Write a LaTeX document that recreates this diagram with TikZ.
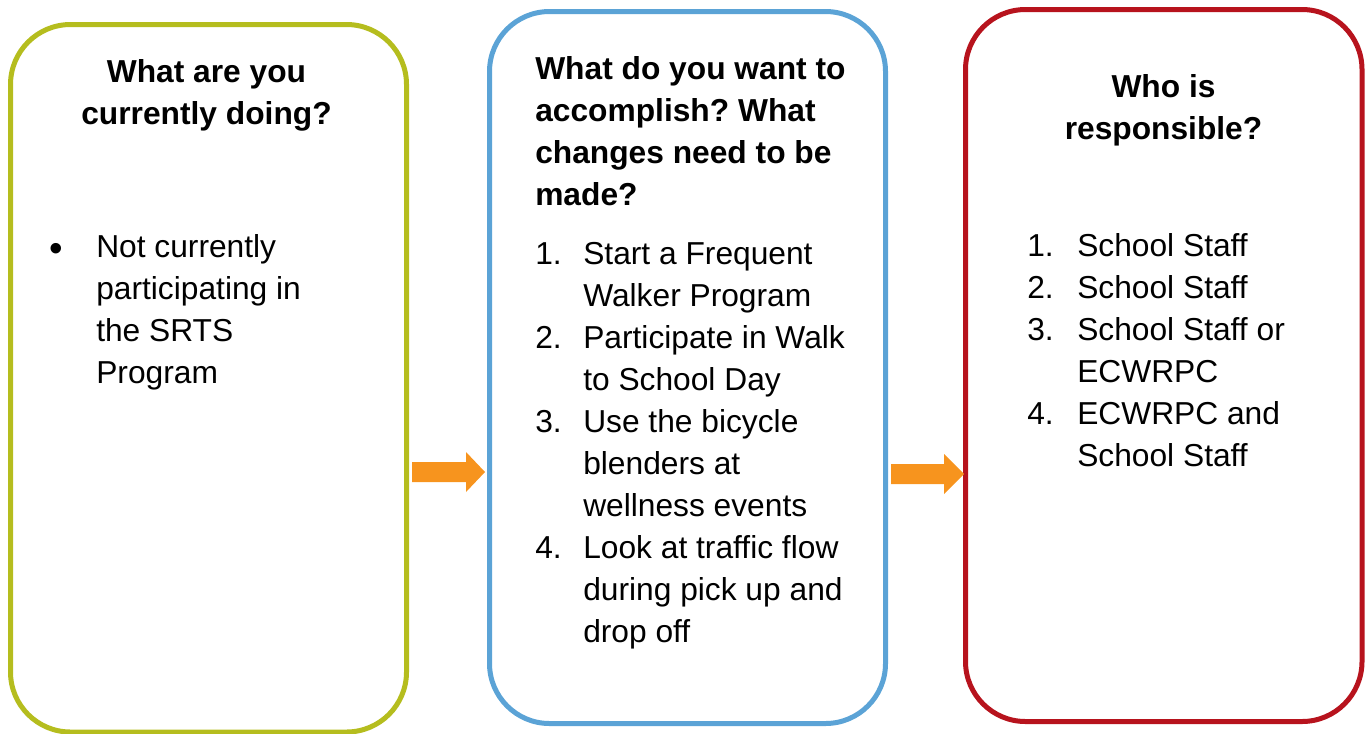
\documentclass[tikz,border=0pt]{standalone}
\usepackage{fontspec}
\setmainfont{Liberation Sans}
\usetikzlibrary{calc}
\definecolor{cgreen}{RGB}{181,189,30}
\definecolor{cblue}{RGB}{91,163,214}
\definecolor{cred}{RGB}{183,19,29}
\definecolor{corange}{RGB}{247,148,30}
\frenchspacing
\tikzset{
  panel/.style={draw, line width=3.75pt, rounded corners=45pt, inner sep=0pt, minimum width=297pt, minimum height=534pt},
  txt/.style={inner sep=0pt, font=\fontsize{23.8}{31.5}\selectfont, anchor=base west},
  head/.style={inner sep=0pt, font=\fontsize{23.8}{31.5}\selectfont\bfseries, anchor=base},
  headl/.style={head, anchor=base west},
  fatarrow/.style={fill=corange, draw=none}
}
\begin{document}
\begin{tikzpicture}[x=0.75pt, y=-0.75pt]
\useasboundingbox (0,0) rectangle (1369,733);
% panels
\node[panel, draw=cgreen, minimum height=530.625pt] (b1) at (208.5,378.25) {};
\node[panel, draw=cblue] (b2) at (687.5,367.5) {};
\node[panel, draw=cred, minimum width=297.375pt] (b3) at (1163.75,365.5) {};
% arrows
\coordinate (a1s) at (412,472);
\coordinate (a1e) at (485,472);
\coordinate (a2s) at (891,474);
\coordinate (a2e) at (964,474);
\fill[fatarrow] ($(a1s)+(0,-10)$) -- ($(a1e)+(-19,-10)$) -- ($(a1e)+(-19,-20)$) -- (a1e) -- ($(a1e)+(-19,20)$) -- ($(a1e)+(-19,10)$) -- ($(a1s)+(0,10)$) -- cycle;
\fill[fatarrow] ($(a2s)+(0,-10)$) -- ($(a2e)+(-20,-10)$) -- ($(a2e)+(-20,-20)$) -- (a2e) -- ($(a2e)+(-20,20)$) -- ($(a2e)+(-20,10)$) -- ($(a2s)+(0,10)$) -- cycle;
% panel 1
\node[head] (h11) at (206.5,82) {What are you};
\node[head] (h12) at (206.5,124) {currently doing?};
\node[txt, font=\fontsize{29}{31.5}\selectfont] (bul) at (49,261) {•};
\node[txt] (t11) at (96,257) {Not currently};
\node[txt] (t12) at (96,299) {participating in};
\node[txt] (t13) at (96,341) {the SRTS};
\node[txt] (t14) at (96,383) {Program};
% panel 2
\node[headl] (h21) at (535,79) {What do you want to};
\node[headl] (h22) at (535,121) {accomplish? What};
\node[headl] (h23) at (535,163) {changes need to be};
\node[headl] (h24) at (535,205) {made?};
\node[txt] (n21) at (535,264) {1.};
\node[txt] (t21) at (583,264) {Start a Frequent};
\node[txt] (t22) at (583,306) {Walker Program};
\node[txt] (n22) at (535,348) {2.};
\node[txt] (t23) at (583,348) {Participate in Walk};
\node[txt] (t24) at (583,390) {to School Day};
\node[txt] (n23) at (535,432) {3.};
\node[txt] (t25) at (583,432) {Use the bicycle};
\node[txt] (t26) at (583,474) {blenders at};
\node[txt] (t27) at (583,516) {wellness events};
\node[txt] (n24) at (535,558) {4.};
\node[txt] (t28) at (583,558) {Look at traffic flow};
\node[txt] (t29) at (583,600) {during pick up and};
\node[txt] (t2a) at (583,642) {drop off};
% panel 3
\node[head] (h31) at (1163.5,97) {Who is};
\node[head] (h32) at (1163.5,139) {responsible?};
\node[txt] (n31) at (1027,256) {1.};
\node[txt] (t31) at (1077,256) {School Staff};
\node[txt] (n32) at (1027,298) {2.};
\node[txt] (t32) at (1077,298) {School Staff};
\node[txt] (n33) at (1027,340) {3.};
\node[txt] (t33) at (1077,340) {School Staff or};
\node[txt] (t34) at (1077,382) {ECWRPC};
\node[txt] (n34) at (1027,424) {4.};
\node[txt] (t35) at (1077,424) {ECWRPC and};
\node[txt] (t36) at (1077,466) {School Staff};
\end{tikzpicture}
\end{document}
